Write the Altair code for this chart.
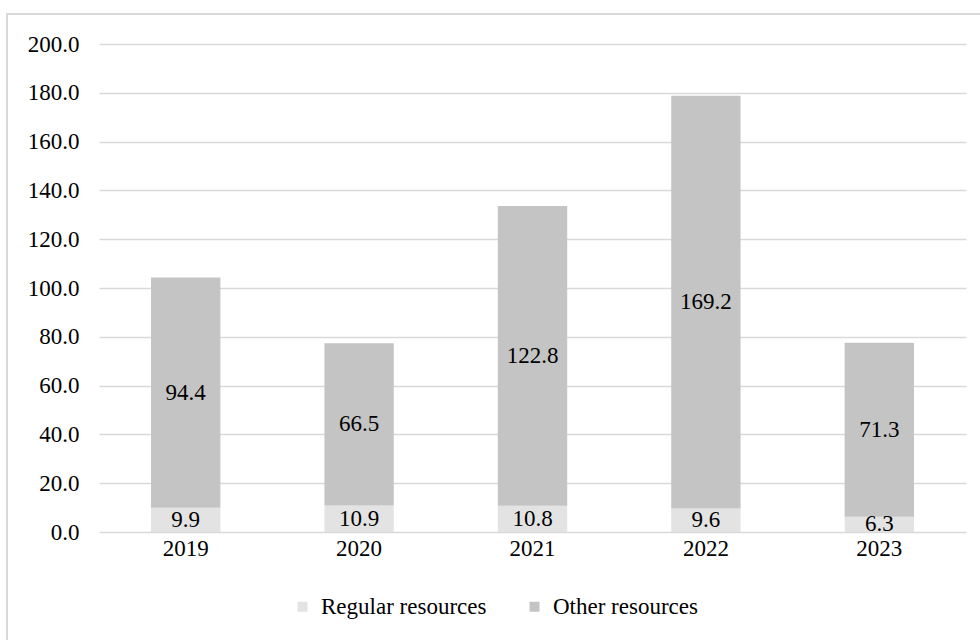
import altair as alt
import pandas as pd

years = ["2019", "2020", "2021", "2022", "2023"]
regular = [9.9, 10.9, 10.8, 9.6, 6.3]
other = [94.4, 66.5, 122.8, 169.2, 71.3]
series = ["Regular resources", "Other resources"]
colors = ["#e3e3e3", "#c4c4c4"]
y_ticks = [0, 20, 40, 60, 80, 100, 120, 140, 160, 180, 200]

rows = []
for i, yr in enumerate(years):
    rows.append({"year": yr, "series": series[0], "value": regular[i], "order": 0})
    rows.append({"year": yr, "series": series[1], "value": other[i], "order": 1})
df = pd.DataFrame(rows)

FONT = "'Liberation Serif', 'Times New Roman', 'DejaVu Serif', serif"
FS = 23

base = alt.Chart(df).transform_stack(
    stack="value", groupby=["year"], as_=["y0", "y1"],
    sort=[alt.SortField("order", order="ascending")]
).transform_calculate(mid="(datum.y0 + datum.y1) / 2")

x_enc = alt.X(
    "year:N", sort=years, title=None,
    scale=alt.Scale(paddingInner=0.6, paddingOuter=0.3),
    axis=alt.Axis(labelAngle=0, domain=False, ticks=False, labelPadding=5,
                  labelFont=FONT, labelFontSize=FS, labelColor="#000000"),
)

y_scale = alt.Scale(domain=[0, 200], nice=False)

bars = base.mark_bar().encode(
    x=x_enc,
    y=alt.Y("y0:Q", scale=y_scale, title=None,
            axis=alt.Axis(values=y_ticks, format=".1f", domain=False, ticks=False,
                          labelPadding=20, labelFont=FONT, labelFontSize=FS,
                          labelColor="#000000", grid=True, gridColor="#d9d9d9",
                          gridWidth=1.5)),
    y2="y1:Q",
    color=alt.Color(
        "series:N",
        scale=alt.Scale(domain=series, range=colors),
        sort=series,
        legend=alt.Legend(
            title=None, orient="none", direction="horizontal",
            legendX=192, legendY=551, symbolType="square", symbolSize=100,
            symbolStrokeWidth=0, labelFont=FONT, labelFontSize=FS,
            labelColor="#000000", labelOffset=7, labelLimit=0,
            columnPadding=36, padding=0,
        ),
    ),
)

labels = base.mark_text(font=FONT, fontSize=FS, color="#000000", baseline="middle").encode(
    x=alt.X("year:N", sort=years),
    y=alt.Y("mid:Q", scale=y_scale),
    text=alt.Text("value:Q", format=".1f"),
)

frame = alt.Chart(alt.Data(values=[{"a": 1}])).mark_rect(
    fill="transparent", stroke="#d9d9d9", strokeWidth=2
).encode(
    x=alt.value(-92), x2=alt.value(920), y=alt.value(-30), y2=alt.value(620)
)

chart = alt.layer(frame, bars, labels).properties(
    width=867, height=488,
    autosize=alt.AutoSizeParams(type="none"),
    padding={"left": 99, "top": 44, "right": 14, "bottom": 108},
    background="white",
).configure_view(stroke=None)

chart.save("out.html", embed_options={"renderer": "svg", "actions": False})
